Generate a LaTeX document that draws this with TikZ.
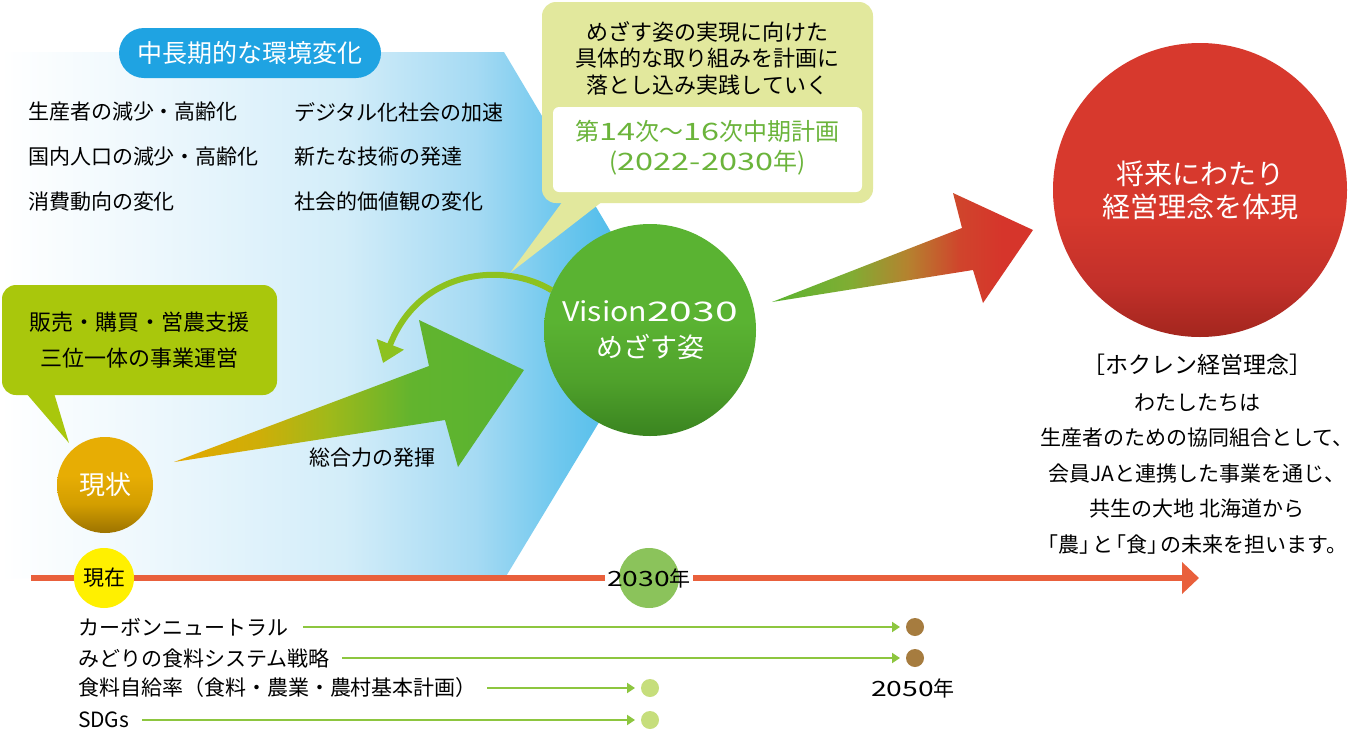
\documentclass[tikz,border=0pt]{standalone}
\usepackage{fontspec}
\usepackage{graphicx}
\setmainfont{Noto Sans CJK JP}
\usetikzlibrary{arrows.meta}
\definecolor{pillblue}{HTML}{1FA3E2}
\definecolor{bgA}{HTML}{EEF8FD}
\definecolor{bgB}{HTML}{D3EDF9}
\definecolor{bgC}{HTML}{A5DAF3}
\definecolor{bgD}{HTML}{70C8EE}
\definecolor{bgE}{HTML}{38B4E8}
\definecolor{gboxc}{HTML}{A9C70C}
\definecolor{calloutc}{HTML}{E2E89D}
\definecolor{plangreen}{HTML}{6BB43B}
\definecolor{agA}{HTML}{E4A800}
\definecolor{agB}{HTML}{CFAE08}
\definecolor{agC}{HTML}{A0B91A}
\definecolor{agD}{HTML}{62B42E}
\definecolor{agE}{HTML}{58B331}
\definecolor{raA}{HTML}{5AB431}
\definecolor{raB}{HTML}{80AD33}
\definecolor{raC}{HTML}{B5822F}
\definecolor{raD}{HTML}{D0442C}
\definecolor{raE}{HTML}{D6352B}
\definecolor{vA}{HTML}{3A8420}
\definecolor{vB}{HTML}{4FA12B}
\definecolor{vC}{HTML}{5AB332}
\definecolor{rA}{HTML}{A3261E}
\definecolor{rB}{HTML}{C2302A}
\definecolor{rC}{HTML}{D7392D}
\definecolor{oA}{HTML}{9C7300}
\definecolor{oB}{HTML}{D39E00}
\definecolor{oC}{HTML}{E7AD04}
\definecolor{curvec}{HTML}{8DC21F}
\definecolor{tlred}{HTML}{E9603C}
\definecolor{yel}{HTML}{FFF000}
\definecolor{gdot}{HTML}{8BC35B}
\definecolor{thinc}{HTML}{8DC63F}
\definecolor{brownc}{HTML}{A67C3F}
\definecolor{lgreen}{HTML}{C6DE7C}
\pgfdeclarehorizontalshading{bgblue}{100bp}{color(0bp)=(white); color(25bp)=(white); color(36bp)=(bgA); color(51bp)=(bgB); color(61bp)=(bgC); color(67bp)=(bgD); color(75bp)=(bgE); color(100bp)=(bgE)}
\pgfdeclarehorizontalshading{gtog}{100bp}{color(0bp)=(agA); color(25bp)=(agA); color(37bp)=(agB); color(47bp)=(agC); color(59bp)=(agD); color(75bp)=(agE); color(100bp)=(agE)}
\pgfdeclarehorizontalshading{gtor}{100bp}{color(0bp)=(raA); color(25bp)=(raA); color(40bp)=(raB); color(51bp)=(raC); color(61bp)=(raD); color(69bp)=(raE); color(100bp)=(raE)}
\pgfdeclareverticalshading{visionsh}{100bp}{color(0bp)=(vA); color(25bp)=(vA); color(38bp)=(vB); color(52bp)=(vC); color(100bp)=(vC)}
\pgfdeclareverticalshading{redsh}{100bp}{color(0bp)=(rA); color(25bp)=(rA); color(34bp)=(rB); color(46bp)=(rC); color(100bp)=(rC)}
\pgfdeclareverticalshading{goldsh}{100bp}{color(0bp)=(oA); color(25bp)=(oA); color(40bp)=(oB); color(55bp)=(oC); color(100bp)=(oC)}
\newcommand\fs[2]{\fontsize{#1}{#2}\selectfont}
\newcommand\dig[1]{\scalebox{1.35}[1]{#1}}
\begin{document}
\begin{tikzpicture}[x=1pt,y=-1pt,
  every node/.style={inner sep=0pt,outer sep=0pt},
  lst/.style={anchor=west,font=\fs{21}{25}},
  pillbox/.style={fill=pillblue,rounded corners=25pt,minimum width=262pt,minimum height=50pt,text=white,font=\fs{25}{30}},
  calloutbox/.style={fill=calloutc,rounded corners=14pt,minimum width=331pt,minimum height=201pt},
  innerbox/.style={fill=white,rounded corners=6pt,minimum width=309pt,minimum height=85pt},
  gboxstyle/.style={fill=gboxc,rounded corners=14pt,minimum width=275pt,minimum height=110pt},
  orb/.style={circle,shade,text=white,align=center},
  tline/.style={draw=tlred,line width=6pt,-{Triangle[length=17pt,width=31pt]}},
  tlink/.style={draw=thinc,line width=2.5pt,-{Triangle[length=8pt,width=10pt]}},
  dotb/.style={circle,fill=brownc,minimum size=18pt},
  dotg/.style={circle,fill=lgreen,minimum size=18pt},
  curvearrow/.style={draw=curvec,line width=6pt,-{Triangle[length=20pt,width=28pt]}}
]
\useasboundingbox (0,0) rectangle (1358,742);
\fill[white] (0,0) rectangle (1358,742);

% background environment area
\shade[shading=bgblue] (0,52) -- (504,52) -- (662,318) -- (505,578) -- (0,578) -- cycle;

% pill and environment list
\node[pillbox] (pill) at (250,53) {中長期的な環境変化};
\node[lst] (e1) at (28,112) {生産者の減少・高齢化};
\node[lst] (e2) at (28,157) {国内人口の減少・高齢化};
\node[lst] (e3) at (28,202) {消費動向の変化};
\node[lst] (e4) at (294,112) {デジタル化社会の加速};
\node[lst] (e5) at (294,157) {新たな技術の発達};
\node[lst] (e6) at (294,202) {社会的価値観の変化};

% top callout
\coordinate (ptip) at (510,273);
\node[calloutbox] (plan) at (707.5,102.5) {};
\fill[calloutc] ([xshift=21pt,yshift=2pt]plan.south west) -- ([xshift=61pt,yshift=2pt]plan.south west) -- (ptip) -- cycle;
\node[innerbox] (planw) at (707.5,149.5) {};
\node[align=center,font=\fs{22}{26.5}] (plantxt) at (707.5,58) {めざす姿の実現に向けた\\具体的な取り組みを計画に\\落とし込み実践していく};
\node[align=center,font=\fs{24}{30},text=plangreen] (plangrn) at (707.5,148) {第\dig{14}次〜\dig{16}次中期計画\\(\dig{2022-2030}年)};

% green callout
\coordinate (gtip) at (69,443);
\node[gboxstyle,align=center,font=\fs{22}{36}] (biz) at (139.5,340) {販売・購買・営農支援\\三位一体の事業運営};
\fill[gboxc] ([xshift=24pt,yshift=2pt]biz.south west) -- ([xshift=52pt,yshift=2pt]biz.south west) -- (gtip) -- cycle;

% big arrow current -> vision
\shade[shading=gtog] (174,462) -- (429,366) -- (419,320) -- (524,370) -- (458,467) -- (445,420) -- cycle;
\node[font=\fs{21}{25}] (sogo) at (372,458) {総合力の発揮};

% current circle
\node[orb,shading=goldsh,minimum size=96pt,font=\fs{26}{30}] (genjo) at (105,485) {現状};

% vision circle
\node[orb,shading=visionsh,minimum size=212pt,font=\fs{27}{36}] (vision) at (650,330) {\scalebox{1.12}[1]{Vision\dig{2030}}\\めざす姿};

% curved feedback arrow
\coordinate (ctip) at (383,363);
\draw[curvearrow] (vision.158) .. controls (505,262) and (420,268) .. (ctip);

% red arrow vision -> future
\shade[shading=gtor] (772,302) -- (962,228) -- (953,193) -- (1033,230) -- (983,303) -- (973,270) -- cycle;

% future circle
\node[orb,shading=redsh,minimum size=294pt,font=\fs{28}{33}] (future) at (1200,190) {将来にわたり\\経営理念を体現};

% philosophy text
\node[font=\fs{23}{28}] (phtitle) at (1197,365) {［ホクレン経営理念］};
\node[align=center,font=\fs{21}{35.5}] (phbody) at (1197,474) {わたしたちは\\生産者のための協同組合として、\\会員JAと連携した事業を通じ、\\共生の大地 北海道から\\\hspace*{-9pt}「農」\kern-8pt と\kern-8pt「食」\kern-8pt の未来を担います。};

% timeline
\coordinate (tls) at (31,578);
\coordinate (tle) at (1199,578);
\draw[tline] (tls) -- (tle);
\node[circle,fill=yel,minimum size=60pt,font=\fs{21}{25}] (now) at (104,578) {現在};
\node[fill=white,minimum width=88pt,minimum height=14pt] (gap2030) at (649,578) {};
\node[circle,fill=gdot,minimum size=60pt] (c2030) at (649,578) {};
\node[font=\fs{21}{25}] (y2030) at (649,578) {\dig{2030}年};

% goals
\node[lst] (g1) at (78,627) {カーボンニュートラル};
\node[lst] (g2) at (78,658) {みどりの食料システム戦略};
\node[lst] (g3) at (78,688) {食料自給率（食料・農業・農村基本計画）};
\node[lst] (g4) at (78,720) {SDGs};
\node[dotb] (d1) at (915,627) {};
\node[dotb] (d2) at (915,658) {};
\node[dotg] (d3) at (650,688) {};
\node[dotg] (d4) at (650,720) {};
\draw[tlink] ([xshift=15pt]g1.east) -- ([xshift=-6pt]d1.west);
\draw[tlink] ([xshift=13pt]g2.east) -- ([xshift=-6pt]d2.west);
\draw[tlink] ([xshift=10pt]g3.east) -- ([xshift=-6pt]d3.west);
\draw[tlink] ([xshift=13pt]g4.east) -- ([xshift=-6pt]d4.west);
\node[font=\fs{21}{25}] (y2050) at (913,688) {\dig{2050}年};
\end{tikzpicture}
\end{document}
